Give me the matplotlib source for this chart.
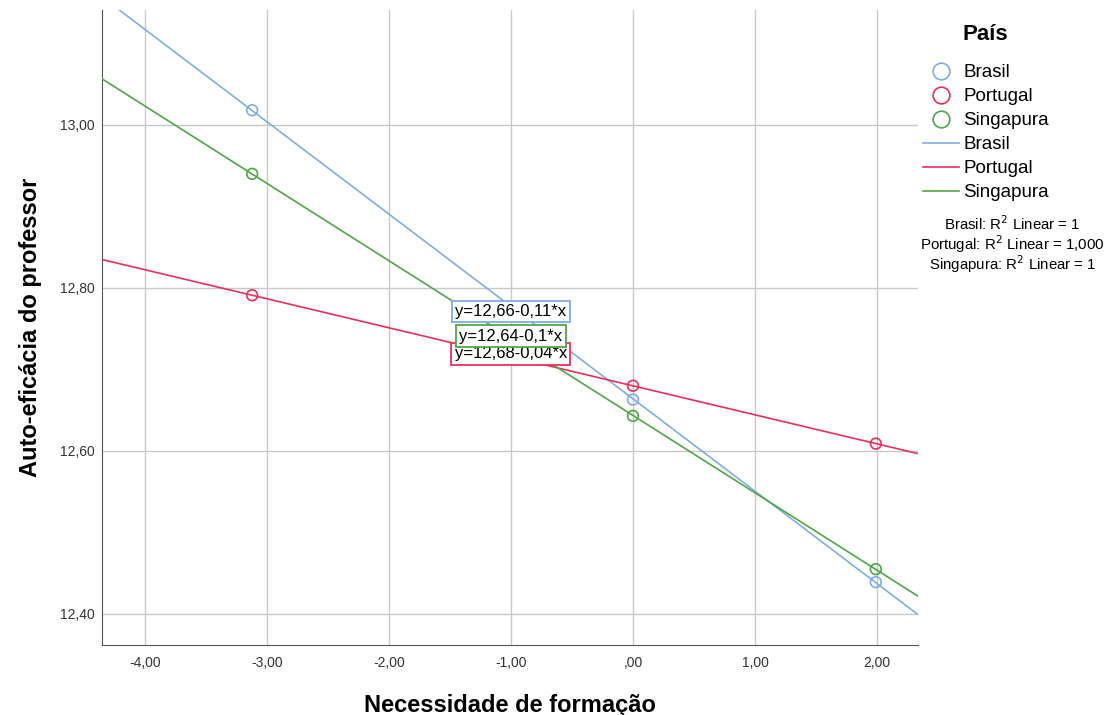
import numpy as np
import matplotlib
matplotlib.use("Agg")
import matplotlib.pyplot as plt
from matplotlib.lines import Line2D

plt.rcParams['font.family'] = ['Liberation Sans', 'DejaVu Sans']

# dados
paises = ["Brasil", "Portugal", "Singapura"]
necessidade = [-3.12, 0.0, 1.99]
auto_eficacia = {
    "Brasil": [13.018, 12.663, 12.439],
    "Portugal": [12.791, 12.680, 12.609],
    "Singapura": [12.940, 12.643, 12.455],
}
equacoes = {
    "Brasil": "y=12,66-0,11*x",
    "Portugal": "y=12,68-0,04*x",
    "Singapura": "y=12,64-0,1*x",
}
r2_textos = ["Brasil: R$^2$ Linear = 1",
             "Portugal: R$^2$ Linear = 1,000",
             "Singapura: R$^2$ Linear = 1"]
cores = {"Brasil": "#7DAEE8", "Portugal": "#E8305A", "Singapura": "#4EA845"}
x_ticks = [-4, -3, -2, -1, 0, 1, 2]
x_ticklabels = ["-4,00", "-3,00", "-2,00", "-1,00", ",00", "1,00", "2,00"]
y_ticks = [12.4, 12.6, 12.8, 13.0]
y_ticklabels = ["12,40", "12,60", "12,80", "13,00"]
pos_rotulos = {"Brasil": (-1.0, 12.771), "Portugal": (-1.0, 12.719), "Singapura": (-1.0, 12.741)}

fig = plt.figure(figsize=(11.14, 7.15), dpi=100)
ax = fig.add_axes([0.0916, 0.098, 0.7325, 0.888])
xlim = (-4.35, 2.336)
ax.set_xlim(*xlim)
ax.set_ylim(12.362, 13.141)

xs = np.linspace(xlim[0], xlim[1], 50)
for p in paises:
    a, b = np.polyfit(necessidade, auto_eficacia[p], 1)
    ax.plot(xs, a * xs + b, color=cores[p], lw=1.2, zorder=3)
    ax.scatter(necessidade, auto_eficacia[p], s=60, facecolors="none",
               edgecolors=cores[p], linewidths=1.2, zorder=4)

for p in ["Brasil", "Portugal", "Singapura"]:
    x, y = pos_rotulos[p]
    ax.text(x, y, equacoes[p], ha="center", va="center", fontsize=12, zorder=5,
            bbox=dict(boxstyle="square,pad=0.2", fc="white", ec=cores[p], lw=1.3))

ax.set_xticks(x_ticks)
ax.set_xticklabels(x_ticklabels)
ax.set_yticks(y_ticks)
ax.set_yticklabels(y_ticklabels)
ax.tick_params(length=0, labelsize=10, colors="#333333")
ax.tick_params(axis="x", pad=8)
ax.tick_params(axis="y", pad=5)
ax.grid(True, color="#c8c8c8", lw=1)
ax.set_axisbelow(True)
for s in ["top", "right"]:
    ax.spines[s].set_visible(False)
for s in ["left", "bottom"]:
    ax.spines[s].set_color("#555555")

ax.set_xlabel("Necessidade de formação", fontsize=17, fontweight="bold", labelpad=17)
ax.set_ylabel("Auto-eficácia do professor", fontsize=17, fontweight="bold", labelpad=13)

handles = [Line2D([], [], ls="none", marker="o", ms=12, mfc="none", mec=cores[p], mew=1.2)
           for p in paises]
handles += [Line2D([], [], color=cores[p], lw=1.2) for p in paises]
labels = paises + paises
leg = fig.legend(handles, labels, loc="upper left", bbox_to_anchor=(0.822, 0.921),
                 frameon=False, fontsize=13.5, handlelength=1.9,
                 handletextpad=0.25, labelspacing=0.37, borderaxespad=0)
fig.text(985 / 1114, 1 - 35 / 715, "País", ha="center", va="center",
         fontsize=16, fontweight="bold")

for i, t in enumerate(r2_textos):
    fig.text(0.909, 1 - (224 + 20 * i) / 715, t, ha="center", va="center", fontsize=10.8)

fig.savefig("out.png", dpi=100)
